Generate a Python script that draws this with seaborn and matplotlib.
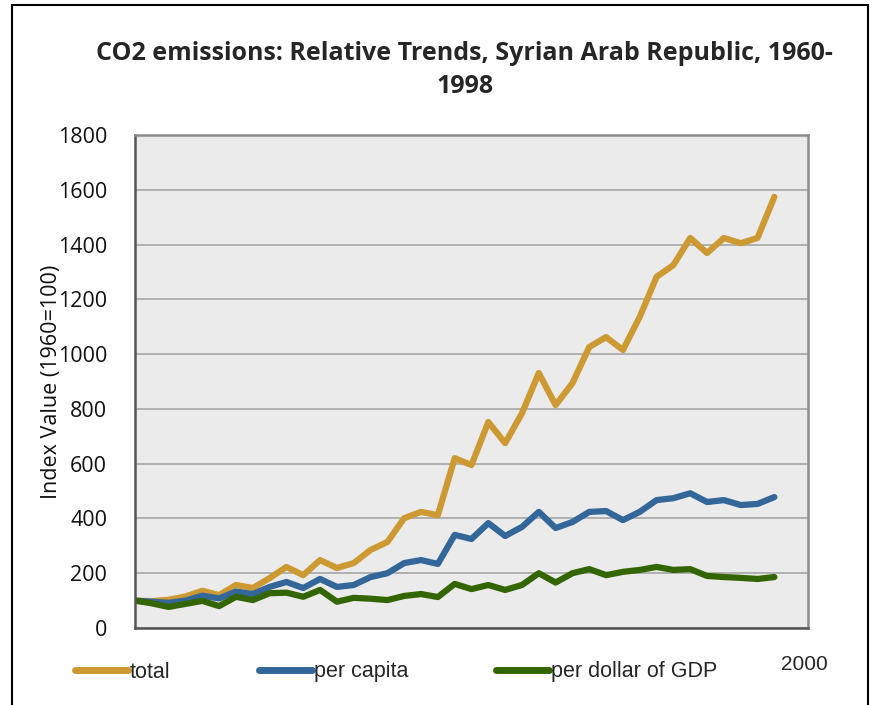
import matplotlib
matplotlib.use("Agg")
import matplotlib.pyplot as plt
import seaborn as sns
import pandas as pd
from matplotlib.patches import Rectangle

years = list(range(1960, 1999))

total = [100, 98, 103, 115, 136, 120, 157, 146, 182, 223,
         193, 248, 219, 237, 285, 314, 401, 424, 412, 620,
         595, 752, 675, 784, 931, 814, 894, 1026, 1062, 1015,
         1136, 1282, 1325, 1424, 1369, 1424, 1405, 1424, 1574]

per_capita = [100, 96, 92, 100, 118, 108, 133, 124, 150, 168,
              146, 179, 150, 157, 186, 200, 237, 248, 234, 340,
              325, 383, 336, 369, 424, 365, 387, 424, 427, 394,
              424, 467, 474, 492, 460, 467, 449, 453, 478]

per_gdp = [100, 90, 77, 88, 99, 80, 114, 102, 127, 129,
           114, 139, 96, 110, 107, 102, 117, 124, 113, 161,
           142, 157, 139, 157, 200, 166, 200, 215, 193, 205,
           212, 223, 212, 215, 190, 186, 183, 179, 186]

series_names = ["total", "per capita", "per dollar of GDP"]
colors = ["#CC9933", "#336699", "#336600"]

df = pd.DataFrame({"year": years * 3,
                   "value": total + per_capita + per_gdp,
                   "series": [s for s in series_names for _ in years]})

sns.set_style("white")
plt.rcParams['font.family'] = ['Open Sans', 'DejaVu Sans']

fig = plt.figure(figsize=(8.78, 7.05), dpi=100)
ax = fig.add_axes([135 / 878, 1 - 628 / 705, 673 / 878, 493 / 705])
ax.set_facecolor("#EBEBEB")

sns.lineplot(data=df, x="year", y="value", hue="series", hue_order=series_names,
             palette=colors, linewidth=4.5, ax=ax, legend=False,
             solid_capstyle="round", solid_joinstyle="round")

ax.set_xlim(1960, 2000)
ax.set_ylim(0, 1800)
ax.set_yticks(range(0, 1801, 200))
ax.set_xticks([])
ax.yaxis.grid(True, color="#A6A6A6", linewidth=1.2)
ax.set_axisbelow(True)
ax.tick_params(axis="y", labelsize=15.5, length=0, pad=20, colors="#111111")
ax.set_xlabel("")
ax.set_ylabel("Index Value (1960=100)", fontsize=15.5, labelpad=-3, color="#111111")
for name, sp in ax.spines.items():
    sp.set_visible(True)
    sp.set_linewidth(1.8)
    sp.set_color("#8C8C8C" if name in ("top", "right") else "#555555")

ax.set_title("CO2 emissions: Relative Trends, Syrian Arab Republic, 1960-\n1998",
             fontsize=18, fontweight="bold", pad=30, linespacing=1.45, x=0.49)

# legend below the plot
handles = [plt.Line2D([], [], color=c, linewidth=5, solid_capstyle="round") for c in colors]
fig.legend(handles, series_names, loc="center left",
           bbox_to_anchor=(75 / 878, 1 - 672 / 705), ncol=3, frameon=False,
           prop={"family": "Liberation Sans", "size": 15.5}, handlelength=2.45,
           handletextpad=0.1, columnspacing=4.1, borderpad=0, borderaxespad=0)
fig.text(804 / 878, 1 - 665 / 705, "2000", ha="center", va="center",
         fontsize=15, family="Liberation Sans")

fig.patches.append(Rectangle((12 / 878, -0.02), 856 / 878, 1.02 - 5 / 705,
                             transform=fig.transFigure, fill=False,
                             edgecolor="black", linewidth=1.5))

fig.savefig("out.png", dpi=100)
